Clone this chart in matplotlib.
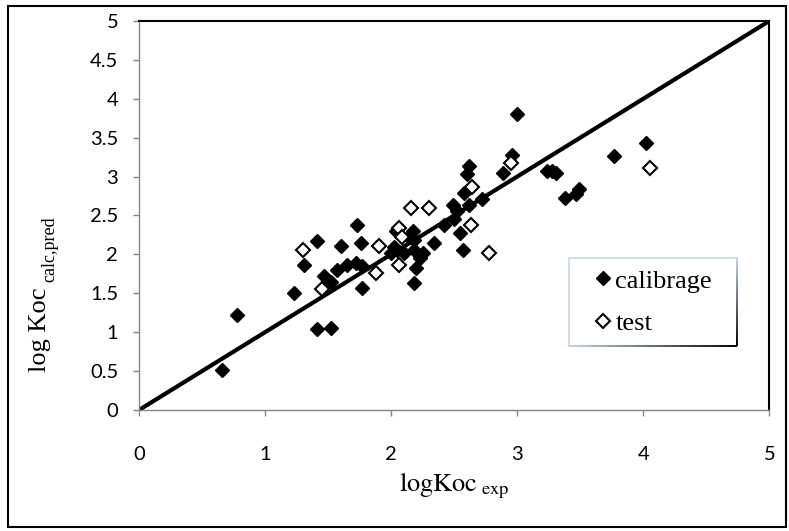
import matplotlib
matplotlib.use('Agg')
import matplotlib.pyplot as plt
import numpy as np
from matplotlib.patches import Rectangle
from matplotlib.collections import LineCollection
from matplotlib.colors import to_rgb

plt.rcParams['mathtext.fontset'] = 'stix'

# calibration set (filled diamonds)
cal_x = [0.66, 0.78, 1.23, 1.31, 1.41, 1.41, 1.52, 1.47, 1.52, 1.57,
         1.60, 1.65, 1.72, 1.73, 1.76, 1.77, 1.77, 2.00, 2.02, 2.04,
         2.05, 2.10, 2.14, 2.17, 2.18, 2.18, 2.18, 2.20, 2.23, 2.25,
         2.34, 2.42, 2.49, 2.50, 2.52, 2.55, 2.57, 2.58, 2.60, 2.62,
         2.62, 2.72, 2.89, 2.96, 3.00, 3.24, 3.28, 3.31, 3.38, 3.47,
         3.49, 3.77, 4.02]
cal_y = [0.52, 1.22, 1.50, 1.87, 2.17, 1.04, 1.05, 1.72, 1.65, 1.80,
         2.11, 1.87, 1.89, 2.38, 2.15, 1.85, 1.57, 2.02, 2.10, 2.30,
         2.06, 2.02, 2.23, 2.30, 2.19, 2.06, 1.63, 1.83, 1.95, 2.02,
         2.15, 2.38, 2.64, 2.45, 2.56, 2.28, 2.06, 2.79, 3.03, 3.14,
         2.64, 2.71, 3.05, 3.28, 3.81, 3.07, 3.07, 3.04, 2.73, 2.77,
         2.84, 3.26, 3.43]

# test set (open diamonds)
test_x = [1.30, 1.45, 1.88, 1.90, 2.06, 2.06, 2.09, 2.16, 2.30, 2.63,
          2.64, 2.78, 2.95, 4.05]
test_y = [2.06, 1.56, 1.76, 2.11, 2.34, 1.87, 2.22, 2.60, 2.59, 2.38,
          2.86, 2.02, 3.17, 3.11]

diag = [0, 5]
xticks = [0, 1, 2, 3, 4, 5]
yticks = [0, 0.5, 1, 1.5, 2, 2.5, 3, 3.5, 4, 4.5, 5]
ytick_labels = ['0', '0.5', '1', '1.5', '2', '2.5', '3', '3.5', '4', '4.5', '5']

W, H = 789, 531
fig = plt.figure(figsize=(W / 100, H / 100), dpi=100)
ax = fig.add_axes([139 / W, 1 - 410 / H, (769.3 - 139) / W, (410 - 21) / H])

ax.plot(diag, diag, color='black', lw=3, zorder=2, solid_capstyle='butt')
ax.plot(cal_x, cal_y, ls='none', marker='D', ms=7.5, mfc='black', mec='black',
        mew=1, zorder=3, label='calibrage')
ax.plot(test_x, test_y, ls='none', marker='D', ms=7, mfc='white', mec='black',
        mew=1.5, zorder=4, label='test')

ax.set_xlim(0, 5)
ax.set_ylim(0, 5)
ax.set_xticks(xticks)
ax.set_yticks(yticks, ytick_labels)

for s in ['left', 'bottom']:
    ax.spines[s].set_color('#868686')
    ax.spines[s].set_linewidth(1)
for s in ['top', 'right']:
    ax.spines[s].set_color('black')
    ax.spines[s].set_linewidth(1.5)

ax.tick_params(direction='out', length=4, width=1, color='#868686',
               labelsize=14.5, labelfontfamily='Lato')
ax.tick_params(axis='x', pad=22)
ax.tick_params(axis='y', pad=11)

fig.text(454 / W, 1 - 486 / H, r'$\mathrm{logKoc}_{\ \mathrm{exp}}$',
         fontsize=19, ha='center', va='center')
# y title: main part plus a separate subscript
fig.text(40 / W, 1 - 372 / H, 'log Koc', family='Liberation Serif',
         fontsize=19, ha='center', va='bottom', rotation=90)
fig.text(50 / W, 1 - 282 / H, 'calc,pred', family='Liberation Serif',
         fontsize=13, ha='center', va='bottom', rotation=90)

leg = ax.legend(loc='upper left', bbox_to_anchor=(569 / W, 1 - 347 / H, 168 / W, 89 / H),
                bbox_transform=fig.transFigure, mode='expand',
                prop={'family': 'Liberation Serif', 'size': 19},
                handlelength=1.7, handletextpad=-0.36, borderpad=0.42,
                labelspacing=0.72, borderaxespad=0, fancybox=False,
                frameon=True, framealpha=1)
leg.get_frame().set_edgecolor('#c6d5ee')
leg.get_frame().set_linewidth(1.2)

# darker shade along the bottom and right of the legend frame
fig.canvas.draw()
bb = leg.get_frame().get_window_extent().transformed(fig.transFigure.inverted())
light = np.array(to_rgb('#c6d5ee'))
n = 30
segs, cols = [], []
xs = np.linspace(bb.x0, bb.x1, n + 1)
for i in range(n):
    segs.append([(xs[i], bb.y0), (xs[i + 1], bb.y0)])
    cols.append(light * (1 - (i + 0.5) / n))
ys = np.linspace(bb.y1, bb.y0, n + 1)
for i in range(n):
    segs.append([(bb.x1, ys[i]), (bb.x1, ys[i + 1])])
    cols.append(light * (1 - (i + 0.5) / n))
fig.add_artist(LineCollection(segs, colors=cols, linewidths=1.4,
                              transform=fig.transFigure, zorder=10))

# outer chart border
fig.add_artist(Rectangle((8 / W, 1 - 527 / H), (786 - 8) / W, (527 - 6) / H,
                         fill=False, ec='black', lw=1.5, transform=fig.transFigure))

fig.savefig('out.png', dpi=100)
